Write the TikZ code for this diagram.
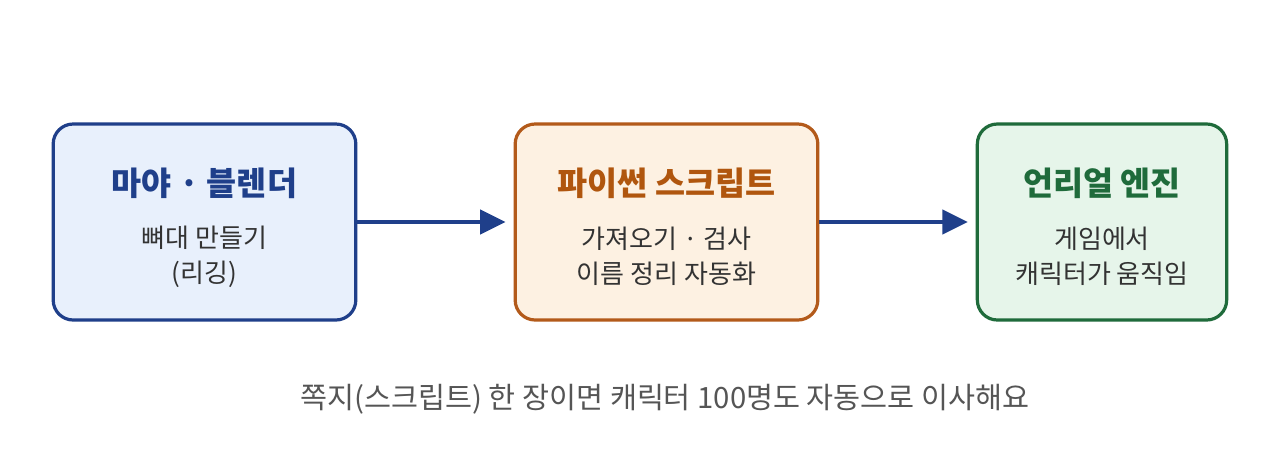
\documentclass[tikz,border=0pt]{standalone}
\usepackage{fontspec}
\usetikzlibrary{arrows.meta}
\newfontfamily\kr{Noto Sans CJK KR}
\definecolor{blueline}{HTML}{1F3F8A}
\definecolor{bluefill}{HTML}{E8F0FC}
\definecolor{orangeline}{HTML}{B35A1A}
\definecolor{orangefill}{HTML}{FDF1E2}
\definecolor{orangetext}{HTML}{B0560E}
\definecolor{greenline}{HTML}{1F6B3B}
\definecolor{greenfill}{HTML}{E6F5EA}
\definecolor{bodytext}{HTML}{333333}
\definecolor{notetext}{HTML}{555555}
\tikzset{
  stage/.style={draw, line width=2.4pt, rounded corners=15pt, minimum height=147pt, inner sep=0pt},
  title/.style={font=\kr\bfseries\fontsize{24.5}{28}\selectfont},
  body/.style={font=\kr\fontsize{19.5}{26.25}\selectfont, text=bodytext, align=center},
  flow/.style={draw=blueline, line width=3pt, -{Triangle[length=19pt,width=18pt]}},
}
\begin{document}
\begin{tikzpicture}[x=0.75pt,y=-0.75pt]
\useasboundingbox[fill=white] (0,0) rectangle (1280,462);
% three stages
\node[stage, draw=blueline, fill=bluefill, minimum width=227pt] (maya) at (204.5,222) {};
\node[stage, draw=orangeline, fill=orangefill, minimum width=227pt] (py) at (666.5,222) {};
\node[stage, draw=greenline, fill=greenfill, minimum width=187pt] (ue) at (1102,222) {};
% labels
\node[title, text=blueline] (mayat) at (204.5,183) {마야 · 블렌더};
\node[body] (mayab) at (204.5,256.5) {뼈대 만들기\\(리깅)};
\node[title, text=orangetext] (pyt) at (666.5,183) {파이썬 스크립트};
\node[body] (pyb) at (666.5,256.5) {가져오기 · 검사\\이름 정리 자동화};
\node[title, text=greenline] (uet) at (1102,183) {언리얼 엔진};
\node[body] (ueb) at (1102,256.5) {게임에서\\캐릭터가 움직임};
% arrows
\draw[flow] (maya.east) -- ([xshift=-6pt]py.west);
\draw[flow] (py.east) -- ([xshift=-6pt]ue.west);
% note
\node[font=\kr\fontsize{22}{26}\selectfont, text=notetext] (note) at (665,399) {쪽지(스크립트) 한 장이면 캐릭터 100명도 자동으로 이사해요};
\end{tikzpicture}
\end{document}
